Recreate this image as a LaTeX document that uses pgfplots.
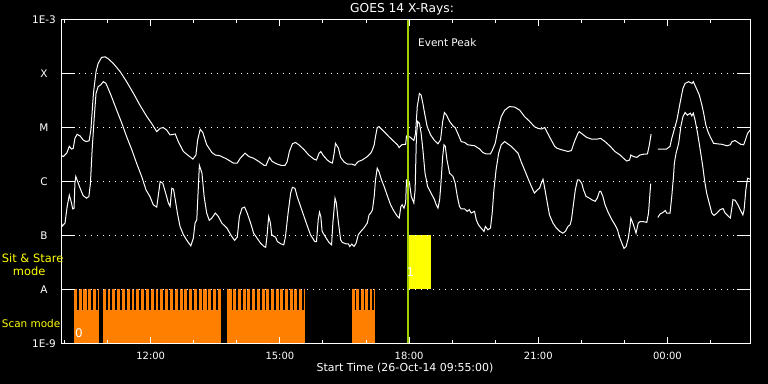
\documentclass[border=0pt]{standalone}
\usepackage{fontspec}
\setmainfont{DejaVu Sans}
\usepackage{pgfplots}
\pgfplotsset{compat=1.18}
\definecolor{scanorange}{RGB}{255,128,0}
\definecolor{peakgreen}{RGB}{160,208,0}
\definecolor{ssyellow}{RGB}{255,255,0}
\begin{document}
\begin{tikzpicture}
\fill[black] (-61bp,-40.7bp) rectangle (707bp,343.3bp);
\useasboundingbox (-61bp,-40.7bp) rectangle (707bp,343.3bp);
\begin{axis}[
  at={(0,0)}, anchor=south west,
  scale only axis, width=689bp, height=323.6bp,
  xmin=9.9167, xmax=25.9167,
  ymode=log, ymin=1e-9, ymax=1e-3,
  axis on top,
  axis line style={white, line width=1bp},
  xtick={12,15,18,21,24},
  xticklabels={12:00,15:00,18:00,21:00,00:00},
  minor xtick={10,11,13,14,16,17,19,20,22,23,25},
  tick align=inside,
  major tick length=6bp, minor tick length=3.5bp,
  xtick style={white, line width=1bp},
  minor x tick style={white, line width=1bp},
  ytick={1e-9,1e-8,1e-7,1e-6,1e-5,1e-4,1e-3},
  yticklabels={1E-9,A,B,C,M,X,1E-3},
  yminorticks=false,
  ytick style={draw=none},
  ymajorgrids,
  major grid style={white, line width=1bp, dash pattern=on 1bp off 5bp},
  xticklabel style={font=\fontsize{10}{12}\selectfont, text=white, anchor=center, yshift=-12.2bp},
  yticklabel style={font=\fontsize{10.5}{12}\selectfont, text=white, anchor=center, xshift=-17bp},
]
% Sit & Stare block
\addplot[fill=ssyellow, draw=none] coordinates {(17.953,1e-8)(17.953,1e-7)(18.512,1e-7)(18.512,1e-8)} -- cycle;
% Scan mode segments
\addplot[fill=scanorange, draw=none] coordinates {(10.216,1e-9)(10.216,1e-8)(10.798,1e-8)(10.798,1e-9)} -- cycle;
\addplot[fill=scanorange, draw=none] coordinates {(10.891,1e-9)(10.891,1e-8)(13.635,1e-8)(13.635,1e-9)} -- cycle;
\addplot[fill=scanorange, draw=none] coordinates {(13.774,1e-9)(13.774,1e-8)(15.581,1e-8)(15.581,1e-9)} -- cycle;
\addplot[fill=scanorange, draw=none] coordinates {(16.681,1e-9)(16.681,1e-8)(17.216,1e-8)(17.216,1e-9)} -- cycle;
% gaps between scans
\addplot[black, line width=1.7bp, unbounded coords=jump] coordinates {
(10.305,4.15e-9)(10.305,1e-8)(10.305,nan)
(10.419,4.15e-9)(10.419,1e-8)(10.419,nan)
(10.531,4.15e-9)(10.531,1e-8)(10.531,nan)
(10.640,4.15e-9)(10.640,1e-8)(10.640,nan)
(10.745,4.15e-9)(10.745,1e-8)(10.745,nan)
(10.977,4.15e-9)(10.977,1e-8)(10.977,nan)
(11.084,4.15e-9)(11.084,1e-8)(11.084,nan)
(11.200,4.15e-9)(11.200,1e-8)(11.200,nan)
(11.309,4.15e-9)(11.309,1e-8)(11.309,nan)
(11.426,4.15e-9)(11.426,1e-8)(11.426,nan)
(11.535,4.15e-9)(11.535,1e-8)(11.535,nan)
(11.642,4.15e-9)(11.642,1e-8)(11.642,nan)
(11.758,4.15e-9)(11.758,1e-8)(11.758,nan)
(11.867,4.15e-9)(11.867,1e-8)(11.867,nan)
(11.984,4.15e-9)(11.984,1e-8)(11.984,nan)
(12.093,4.15e-9)(12.093,1e-8)(12.093,nan)
(12.200,4.15e-9)(12.200,1e-8)(12.200,nan)
(12.316,4.15e-9)(12.316,1e-8)(12.316,nan)
(12.426,4.15e-9)(12.426,1e-8)(12.426,nan)
(12.535,4.15e-9)(12.535,1e-8)(12.535,nan)
(12.651,4.15e-9)(12.651,1e-8)(12.651,nan)
(12.758,4.15e-9)(12.758,1e-8)(12.758,nan)
(12.867,4.15e-9)(12.867,1e-8)(12.867,nan)
(12.984,4.15e-9)(12.984,1e-8)(12.984,nan)
(13.093,4.15e-9)(13.093,1e-8)(13.093,nan)
(13.200,4.15e-9)(13.200,1e-8)(13.200,nan)
(13.316,4.15e-9)(13.316,1e-8)(13.316,nan)
(13.426,4.15e-9)(13.426,1e-8)(13.426,nan)
(13.535,4.15e-9)(13.535,1e-8)(13.535,nan)
(13.898,4.15e-9)(13.898,1e-8)(13.898,nan)
(14.007,4.15e-9)(14.007,1e-8)(14.007,nan)
(14.116,4.15e-9)(14.116,1e-8)(14.116,nan)
(14.226,4.15e-9)(14.226,1e-8)(14.226,nan)
(14.335,4.15e-9)(14.335,1e-8)(14.335,nan)
(14.444,4.15e-9)(14.444,1e-8)(14.444,nan)
(14.553,4.15e-9)(14.553,1e-8)(14.553,nan)
(14.663,4.15e-9)(14.663,1e-8)(14.663,nan)
(14.772,4.15e-9)(14.772,1e-8)(14.772,nan)
(14.881,4.15e-9)(14.881,1e-8)(14.881,nan)
(14.991,4.15e-9)(14.991,1e-8)(14.991,nan)
(15.100,4.15e-9)(15.100,1e-8)(15.100,nan)
(15.209,4.15e-9)(15.209,1e-8)(15.209,nan)
(15.319,4.15e-9)(15.319,1e-8)(15.319,nan)
(15.428,4.15e-9)(15.428,1e-8)(15.428,nan)
(15.537,4.15e-9)(15.537,1e-8)(15.537,nan)
(16.758,4.15e-9)(16.758,1e-8)(16.758,nan)
(16.860,4.15e-9)(16.860,1e-8)(16.860,nan)
(16.967,4.15e-9)(16.967,1e-8)(16.967,nan)
(17.077,4.15e-9)(17.077,1e-8)(17.077,nan)
(17.170,4.15e-9)(17.170,1e-8)(17.170,nan)
};
% GOES long channel (1-8 A)
\addplot[white, line width=1bp, unbounded coords=jump] coordinates {
(9.91,3.1e-6)(9.97,2.9e-6)(10.05,3.35e-6)(10.11,4.5e-6)(10.16,4.0e-6)(10.20,4.1e-6)(10.24,6.3e-6)(10.29,7.5e-6)(10.36,7.0e-6)(10.43,5.9e-6)(10.50,5.5e-6)(10.57,5.7e-6)(10.61,9.0e-6)(10.67,4.3e-5)(10.73,1.09e-4)(10.78,1.55e-4)(10.86,2.0e-4)(10.94,2.05e-4)(11.01,1.9e-4)(11.13,1.55e-4)(11.29,1.09e-4)(11.44,7.1e-5)(11.60,4.3e-5)(11.75,2.6e-5)(11.91,1.6e-5)(12.02,1.2e-5)(12.14,8.4e-6)(12.22,9.7e-6)(12.29,1.0e-5)(12.37,9.0e-6)(12.45,7.3e-6)(12.57,7.6e-6)(12.64,5.5e-6)(12.76,3.6e-6)(12.88,3.0e-6)(12.98,2.6e-6)(13.05,3.1e-6)(13.09,5.9e-6)(13.15,9.3e-6)(13.21,8.1e-6)(13.30,4.8e-6)(13.42,3.45e-6)(13.50,3.1e-6)(13.61,3.0e-6)(13.77,2.6e-6)(13.92,2.2e-6)
(14.01,2.2e-6)(14.08,2.7e-6)(14.19,3.35e-6)(14.28,2.9e-6)(14.39,2.7e-6)(14.51,2.35e-6)(14.63,2.0e-6)(14.68,2.0e-6)(14.73,2.5e-6)(14.76,2.8e-6)(14.82,2.35e-6)(14.94,2.1e-6)(15.02,2.0e-6)(15.12,2.0e-6)(15.17,2.35e-6)(15.22,3.6e-6)(15.29,5.0e-6)(15.36,5.3e-6)(15.44,4.8e-6)(15.56,3.9e-6)(15.67,3.1e-6)(15.79,2.6e-6)(15.85,2.5e-6)(15.91,3.35e-6)(15.95,3.6e-6)(16.00,3.1e-6)(16.10,2.5e-6)(16.18,2.25e-6)(16.22,2.2e-6)(16.26,3.35e-6)(16.29,5.1e-6)(16.36,4.15e-6)(16.41,2.8e-6)(16.49,2.3e-6)(16.57,2.1e-6)(16.67,2.1e-6)(16.74,2.0e-6)(16.82,2.35e-6)(16.91,2.5e-6)(17.03,2.9e-6)(17.11,3.35e-6)(17.15,3.9e-6)(17.19,4.8e-6)(17.22,6.8e-6)(17.26,1.0e-5)(17.30,1.04e-5)(17.38,9.0e-6)(17.46,7.8e-6)(17.53,6.8e-6)(17.65,5.5e-6)(17.73,4.8e-6)(17.77,4.25e-6)(17.83,4.8e-6)(17.92,4.9e-6)(17.94,7.0e-6)
(17.97,7.0e-6)(18.03,6.6e-6)(18.11,5.75e-6)(18.15,7.8e-6)(18.19,2.45e-5)(18.24,4.3e-5)(18.28,4.0e-5)(18.32,2.8e-5)(18.36,1.85e-5)(18.42,1.04e-5)(18.50,7.3e-6)(18.59,5.75e-6)(18.67,5.0e-6)(18.73,5.9e-6)(18.78,1.3e-5)(18.82,1.9e-5)(18.87,1.7e-5)(18.94,1.3e-5)(19.02,1.07e-5)(19.07,1.0e-5)(19.13,7.8e-6)(19.21,5.5e-6)(19.29,5.3e-6)(19.36,4.8e-6)(19.52,4.6e-6)(19.64,4.0e-6)(19.71,3.45e-6)(19.79,3.25e-6)(19.89,3.25e-6)(19.94,3.9e-6)(20.00,5.1e-6)(20.06,9.0e-6)(20.14,1.6e-5)(20.22,2.1e-5)(20.33,2.45e-5)(20.45,2.4e-5)(20.57,2.1e-5)(20.68,1.6e-5)(20.80,1.3e-5)(20.91,1.04e-5)(20.99,9.7e-6)(21.07,9.4e-6)(21.15,1.0e-5)(21.22,7.8e-6)(21.30,5.9e-6)(21.38,4.5e-6)(21.43,4.15e-6)(21.53,3.9e-6)(21.69,3.6e-6)(21.77,3.75e-6)(21.84,5.5e-6)(21.92,7.8e-6)
(21.95,8.4e-6)(22.05,7.3e-6)(22.12,6.6e-6)(22.24,6.1e-6)(22.36,6.1e-6)(22.45,6.3e-6)(22.55,5.5e-6)(22.67,4.5e-6)(22.78,3.6e-6)(22.90,3.1e-6)(22.98,2.7e-6)(23.05,2.4e-6)(23.12,2.5e-6)(23.15,3.1e-6)(23.21,2.9e-6)(23.29,2.8e-6)(23.36,3.1e-6)(23.44,3.2e-6)(23.535,3.25e-6)(23.58,4.8e-6)(23.62,7.6e-6)(23.70,nan)
(23.775,4.0e-6)(23.87,4.0e-6)(23.98,4.0e-6)(24.06,4.5e-6)(24.10,6.3e-6)(24.155,9.0e-6)(24.22,1.39e-5)(24.29,2.8e-5)(24.36,5.35e-5)(24.41,6.6e-5)(24.49,7.1e-5)(24.57,6.6e-5)(24.60,7.1e-5)(24.67,5.35e-5)(24.74,4.0e-5)(24.80,2.6e-5)(24.84,1.85e-5)(24.89,1.12e-5)(24.94,8.4e-6)(24.99,6.8e-6)(25.07,5.1e-6)(25.15,5.0e-6)(25.26,4.9e-6)(25.38,4.6e-6)(25.46,4.8e-6)(25.50,5.5e-6)(25.57,5.75e-6)(25.65,5.2e-6)(25.70,4.9e-6)(25.77,4.8e-6)(25.81,5.9e-6)(25.86,7.8e-6)(25.92,9.0e-6)
};
% GOES short channel (0.5-4 A)
\addplot[white, line width=1bp, unbounded coords=jump] coordinates {
(9.91,1.8e-7)(9.95,1.5e-7)(10.01,1.7e-7)(10.06,3.45e-7)(10.11,5.6e-7)(10.15,4.3e-7)(10.19,3.1e-7)(10.22,3.2e-7)(10.24,9.3e-7)(10.26,1.24e-6)(10.29,1.07e-6)(10.36,7.5e-7)(10.43,5.5e-7)(10.51,4.9e-7)(10.565,5.3e-7)(10.60,9.3e-7)(10.64,3.9e-6)(10.69,1.6e-5)(10.73,4.3e-5)(10.78,5.75e-5)(10.84,6.2e-5)(10.90,7.1e-5)(10.96,6.6e-5)(11.01,5.35e-5)(11.09,3.75e-5)(11.21,2.1e-5)(11.33,1.2e-5)(11.44,6.8e-6)(11.56,3.9e-6)(11.67,2.2e-6)(11.79,1.24e-6)(11.89,7.0e-7)(11.98,5.3e-7)(12.06,3.7e-7)(12.14,3.35e-7)(12.22,1.0e-6)(12.28,9.3e-7)(12.36,5.6e-7)(12.41,4.0e-7)(12.45,3.45e-7)(12.49,7.5e-7)(12.53,7.2e-7)(12.57,4.6e-7)(12.62,2.6e-7)(12.68,1.47e-7)(12.76,1.03e-7)(12.84,8.1e-8)(12.93,6.4e-8)(12.99,8.9e-8)(13.03,1.7e-7)(13.07,1.95e-7)(13.11,9.3e-7)(13.13,2.0e-6)(13.19,1.43e-6)(13.24,5.3e-7)(13.30,2.6e-7)(13.36,1.9e-7)(13.42,2.1e-7)(13.50,2.6e-7)(13.57,2.25e-7)(13.65,1.7e-7)(13.77,1.37e-7)(13.88,9.6e-8)(13.95,8.1e-8)
(14.01,9.3e-8)(14.06,2.25e-7)(14.12,3.2e-7)(14.18,3.35e-7)(14.24,2.6e-7)(14.32,1.7e-7)(14.39,1.1e-7)(14.47,8.9e-8)(14.55,7.2e-8)(14.63,6.25e-8)(14.67,6.0e-8)(14.70,9.6e-8)(14.74,2.25e-7)(14.78,1.7e-7)(14.81,1.03e-7)(14.86,9.6e-8)(14.90,9.3e-8)(14.94,7.7e-8)(15.02,7.0e-8)(15.09,6.7e-8)(15.13,9.6e-8)(15.19,2.6e-7)(15.25,6.1e-7)(15.29,7.8e-7)(15.35,7.5e-7)(15.40,5.3e-7)(15.48,3.45e-7)(15.56,2.25e-7)(15.64,1.47e-7)(15.71,1.03e-7)(15.81,7.7e-8)(15.85,7.7e-8)(15.89,1.95e-7)(15.92,2.7e-7)(15.95,2.25e-7)(15.98,1.19e-7)(16.05,9.6e-8)(16.14,7.4e-8)(16.20,6.7e-8)(16.23,1.7e-7)(16.28,4.9e-7)(16.31,4.0e-7)(16.36,1.7e-7)(16.41,8.3e-8)(16.45,7.4e-8)(16.53,7.0e-8)(16.59,7.0e-8)(16.62,6.25e-8)(16.67,6.9e-8)(16.72,6.25e-8)(16.77,7.2e-8)(16.82,1.03e-7)(16.88,1.19e-7)(16.95,1.37e-7)(17.03,1.7e-7)(17.07,2.4e-7)(17.11,2.6e-7)(17.15,3.0e-7)(17.19,5.3e-7)(17.22,1.07e-6)(17.26,1.77e-6)(17.30,1.53e-6)(17.36,1.07e-6)(17.42,8.1e-7)(17.50,5.3e-7)(17.57,3.7e-7)(17.65,2.8e-7)(17.73,2.25e-7)(17.77,2.1e-7)(17.81,3.45e-7)(17.84,3.7e-7)(17.88,3.2e-7)(17.92,4.0e-7)(17.94,1.07e-6)
(17.97,1.07e-6)(18.01,9.3e-7)(18.05,5.3e-7)(18.11,4.0e-7)(18.14,7.0e-7)(18.17,6.8e-6)(18.20,1.3e-5)(18.24,1.2e-5)(18.28,7.8e-6)(18.32,3.9e-6)(18.37,1.43e-6)(18.43,8.1e-7)(18.51,6.1e-7)(18.59,4.6e-7)(18.63,3.7e-7)(18.67,3.2e-7)(18.71,4.6e-7)(18.74,9.3e-7)(18.78,2.9e-6)(18.81,4.8e-6)(18.84,4.5e-6)(18.88,2.5e-6)(18.94,1.43e-6)(19.02,1.24e-6)(19.07,9.3e-7)(19.12,5.3e-7)(19.17,3.45e-7)(19.21,3.1e-7)(19.29,3.1e-7)(19.35,2.8e-7)(19.40,3.0e-7)(19.44,2.6e-7)(19.52,2.8e-7)(19.56,1.95e-7)(19.61,1.58e-7)(19.67,1.37e-7)(19.74,1.19e-7)(19.77,1.47e-7)(19.83,1.27e-7)(19.89,1.37e-7)(19.93,2.6e-7)(19.97,7.0e-7)(20.02,1.65e-6)(20.08,3.35e-6)(20.14,4.8e-6)(20.22,5.5e-6)(20.29,5.0e-6)(20.37,4.5e-6)(20.45,3.9e-6)(20.53,3.35e-6)(20.60,2.35e-6)(20.68,1.65e-6)(20.76,1.15e-6)(20.84,8.1e-7)(20.91,6.1e-7)(20.98,7.0e-7)(21.03,7.5e-7)(21.07,9.3e-7)(21.11,1.1e-6)(21.15,7.5e-7)(21.21,4.0e-7)(21.26,2.4e-7)(21.34,1.7e-7)(21.42,1.37e-7)(21.50,1.19e-7)(21.57,1.1e-7)(21.63,1.19e-7)(21.69,1.47e-7)(21.74,1.58e-7)(21.77,1.95e-7)(21.81,3.45e-7)(21.86,7.0e-7)(21.91,1.07e-6)
(21.95,1.07e-6)(22.01,9.3e-7)(22.05,7.0e-7)(22.11,5.3e-7)(22.19,4.9e-7)(22.24,4.6e-7)(22.32,4.3e-7)(22.37,4.9e-7)(22.42,6.5e-7)(22.45,6.6e-7)(22.50,5.3e-7)(22.55,3.7e-7)(22.63,2.6e-7)(22.71,1.95e-7)(22.78,1.58e-7)(22.84,1.27e-7)(22.88,9.6e-8)(22.94,7.2e-8)(22.99,5.75e-8)(23.04,6.25e-8)(23.09,8.9e-8)(23.13,1.47e-7)(23.15,2.1e-7)(23.21,1.58e-7)(23.27,1.1e-7)(23.32,1.7e-7)(23.36,1.8e-7)(23.44,1.8e-7)(23.52,1.75e-7)(23.56,2.6e-7)(23.61,9.1e-7)(23.70,nan)
(23.775,2.15e-7)(23.83,2.5e-7)(23.89,2.65e-7)(23.95,2.9e-7)(23.98,2.6e-7)(24.06,2.6e-7)(24.10,5.3e-7)(24.14,1.24e-6)(24.16,2.2e-6)(24.20,3.35e-6)(24.26,5.1e-6)(24.31,1.04e-5)(24.36,1.6e-5)(24.41,1.9e-5)(24.465,1.7e-5)(24.53,1.85e-5)(24.565,1.65e-5)(24.60,1.85e-5)(24.64,1.39e-5)(24.70,7.8e-6)(24.76,3.9e-6)(24.82,1.9e-6)(24.86,1.07e-6)(24.91,6.1e-7)(24.98,3.7e-7)(25.03,2.6e-7)(25.08,2.35e-7)(25.15,2.6e-7)(25.22,3.0e-7)(25.29,3.15e-7)(25.34,2.6e-7)(25.42,2.25e-7)(25.46,2.1e-7)(25.50,3.45e-7)(25.52,4.6e-7)(25.57,4.5e-7)(25.635,3.7e-7)(25.69,3.0e-7)(25.75,2.4e-7)(25.78,3.0e-7)(25.82,7.0e-7)(25.86,1.15e-6)(25.92,1.1e-6)
};
% Event peak
\addplot[peakgreen, line width=2bp] coordinates {(17.98,1e-9)(17.98,1e-3)};
\end{axis}
\begin{axis}[
  at={(0,0)}, anchor=south west,
  scale only axis, width=689bp, height=323.6bp,
  xmin=9.9167, xmax=25.9167,
  ymode=log, ymin=1e-9, ymax=1e-3,
  axis line style={white, line width=1bp},
  xtick=\empty,
  ytick={1e-8,1e-7,1e-6,1e-5,1e-4},
  yticklabel=\empty,
  yminorticks=false,
  tick align=inside,
  major tick length=13.5bp,
  ytick style={white, line width=1bp},
]
\end{axis}
\node[white, font=\fontsize{12.3}{14}\selectfont, anchor=center] at (341bp,333.8bp) {GOES 14 X-Rays:};
\node[white, font=\fontsize{11}{13}\selectfont, anchor=center] at (344bp,-25.2bp) {Start Time (26-Oct-14 09:55:00)};
\node[white, font=\fontsize{10.5}{12}\selectfont, anchor=west, inner sep=0pt] at (357bp,300.3bp) {Event Peak};
\node[ssyellow, font=\fontsize{11.5}{13}\selectfont, anchor=west, inner sep=0pt] at (-59.3bp,84.8bp) {Sit \& Stare};
\node[ssyellow, font=\fontsize{11.5}{13}\selectfont, anchor=west, inner sep=0pt] at (-48.3bp,72.3bp) {mode};
\node[ssyellow, font=\fontsize{10.5}{12}\selectfont, anchor=west, inner sep=0pt] at (-59.3bp,19.8bp) {Scan mode};
\node[white, font=\fontsize{12}{14}\selectfont, anchor=center, inner sep=0pt] at (18bp,10.3bp) {0};
\node[white, font=\fontsize{12}{14}\selectfont, anchor=center, inner sep=0pt] at (349.5bp,71.3bp) {1};
\end{tikzpicture}
\end{document}
